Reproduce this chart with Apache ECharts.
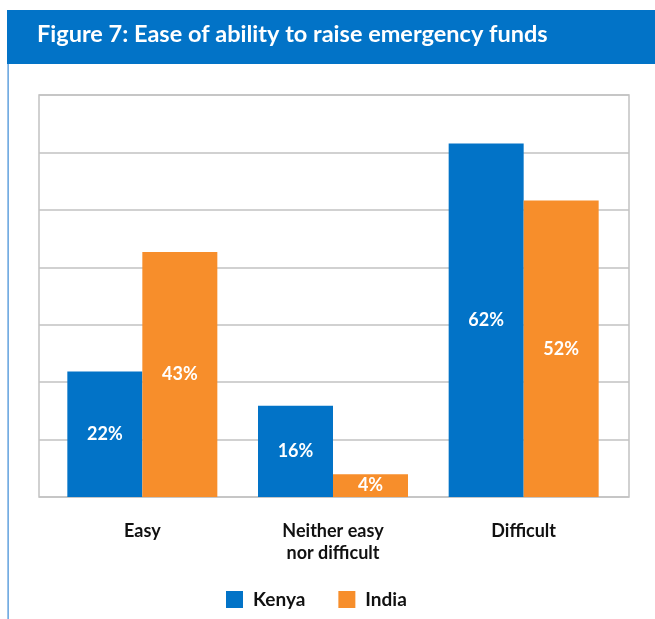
<!DOCTYPE html>
<html><head><meta charset="utf-8">
<script src="https://cdn.jsdelivr.net/npm/echarts@6/dist/echarts.min.js"></script>
<style>html,body{margin:0;padding:0;background:#fff}#c{width:655px;height:619px}</style>
</head><body><div id="c"></div>
<script>
const categories = ['Easy', 'Neither easy\nnor difficult', 'Difficult'];
const kenya = [22, 16, 62];
const india = [43, 4, 52];
const seriesNames = ['Kenya', 'India'];
const titleText = 'Figure 7: Ease of ability to raise emergency funds';

const BLUE = '#0273c7', ORANGE = '#f78e2b', GRID = '#c2c2c2';
const FONT = 'Lato';
const chart = echarts.init(document.getElementById('c'));
const lbl = {show: true, position: 'inside', color: '#fff', fontFamily: FONT, fontWeight: 'bold', fontSize: 18, formatter: '{c}%'};
chart.setOption({
  animation: false,
  backgroundColor: '#fff',
  graphic: [
    {type: 'rect', shape: {x: 7, y: 10, width: 648, height: 54}, style: {fill: BLUE}},
    {type: 'rect', shape: {x: 7.5, y: 64, width: 1.2, height: 555}, style: {fill: '#3a8ad6'}},
    {type: 'text', left: 37, top: 22, style: {text: titleText, fill: '#fff', font: 'bold 23.5px ' + FONT}}
  ],
  legend: {
    bottom: 5, left: 221, itemWidth: 17, itemHeight: 17, itemGap: 33,
    icon: 'rect',
    textStyle: {fontFamily: FONT, fontWeight: 'bold', fontSize: 19, color: '#111', padding: [0, 0, 0, 5]},
    data: seriesNames
  },
  grid: [
    {left: 39, right: 26, top: 95, bottom: 122, show: true, borderColor: GRID, borderWidth: 1.5, backgroundColor: 'transparent'},
    {left: 47, right: 36, top: 98, bottom: 122}
  ],
  xAxis: [
    {gridIndex: 0, type: 'category', data: categories, show: false},
    {gridIndex: 1, type: 'category', data: categories,
     axisLine: {show: false}, axisTick: {show: false},
     axisLabel: {margin: 23, color: '#111', fontFamily: FONT, fontWeight: 'bold', fontSize: 18, lineHeight: 22}}
  ],
  yAxis: [
    {gridIndex: 0, type: 'value', min: 0, max: 70, interval: 10,
     axisLabel: {show: false}, axisLine: {show: false}, axisTick: {show: false},
     splitLine: {lineStyle: {color: GRID, width: 1.5}}},
    {gridIndex: 1, type: 'value', min: 0, max: 70, interval: 10, show: false, splitLine: {show: false}}
  ],
  series: [
    {name: seriesNames[0], type: 'bar', xAxisIndex: 1, yAxisIndex: 1, data: kenya, barWidth: 75, barGap: '0%',
     itemStyle: {color: BLUE}, label: lbl},
    {name: seriesNames[1], type: 'bar', xAxisIndex: 1, yAxisIndex: 1, data: india, barWidth: 75, barGap: '0%',
     itemStyle: {color: ORANGE}, label: lbl}
  ]
});
</script></body></html>
